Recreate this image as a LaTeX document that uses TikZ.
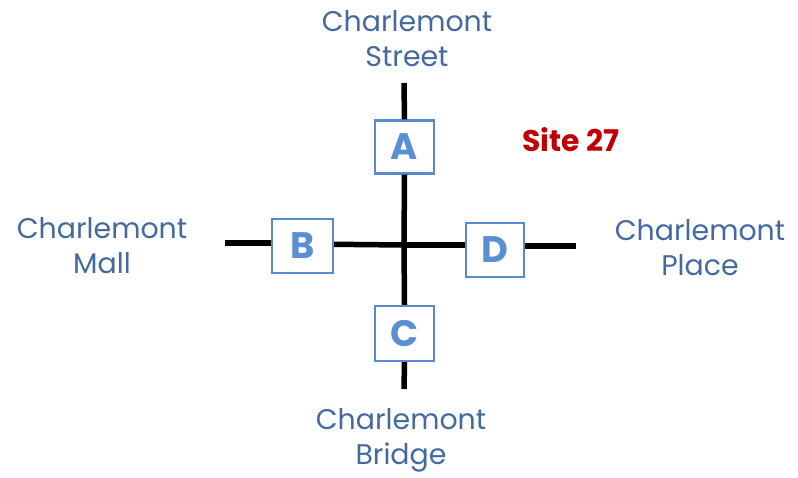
\documentclass[tikz,border=0pt]{standalone}
\usepackage{fontspec}
\setmainfont{Poppins}
\begin{document}
\begin{tikzpicture}[x=1bp,y=-1bp,
  road/.style={line width=5.5bp,black},
  sign/.style={draw=boxblue,line width=2.2bp,fill=white,minimum width=59bp,minimum height=53bp,inner sep=0pt,
    text=letterblue,font=\fontsize{37}{37}\selectfont\bfseries},
  streetlabel/.style={text=labelblue,align=center,font=\fontsize{28.5}{35}\selectfont,inner sep=0pt},
]
\definecolor{boxblue}{HTML}{5B8ACB}
\definecolor{letterblue}{HTML}{5B8FD2}
\definecolor{labelblue}{HTML}{44699E}
\definecolor{sitered}{HTML}{C00000}
\useasboundingbox (0,0) rectangle (798,478);
% road ends
\coordinate (nend) at (404,83);
\coordinate (send) at (404,389);
\coordinate (wend) at (225,243);
\coordinate (eend) at (576,246);
\coordinate (ctr) at (404,245);
% signs
\node[sign] (A) at (404.5,147) {A};
\node[sign,minimum width=61bp,minimum height=54bp] (B) at (302.5,246) {B};
\node[sign,minimum height=55bp] (C) at (404.5,333.5) {C};
\node[sign,minimum width=58bp,minimum height=54bp] (D) at (495,250) {D};
% roads
\draw[road] (nend) -- (A.north);
\draw[road] (A.south) -- (ctr);
\draw[road] (ctr) -- (C.north);
\draw[road] (C.south) -- (send);
\draw[road] (wend) -- (B.west |- wend);
\draw[road] (B.east |- 0,244.3) -- (ctr);
\draw[road] (ctr) -- (D.west |- ctr);
\draw[road] (D.east |- eend) -- (eend);
% labels
\node[streetlabel] (lstreet) at (407,39) {Charlemont\\Street};
\node[streetlabel] (lmall) at (102,246) {Charlemont\\Mall};
\node[streetlabel] (lplace) at (700,248) {Charlemont\\Place};
\node[streetlabel] (lbridge) at (401,440) {Charlemont\\Bridge};
\node[text=sitered,font=\fontsize{30}{30}\selectfont\bfseries,inner sep=0pt] (site) at (571,140) {Site 27};
\end{tikzpicture}
\end{document}
